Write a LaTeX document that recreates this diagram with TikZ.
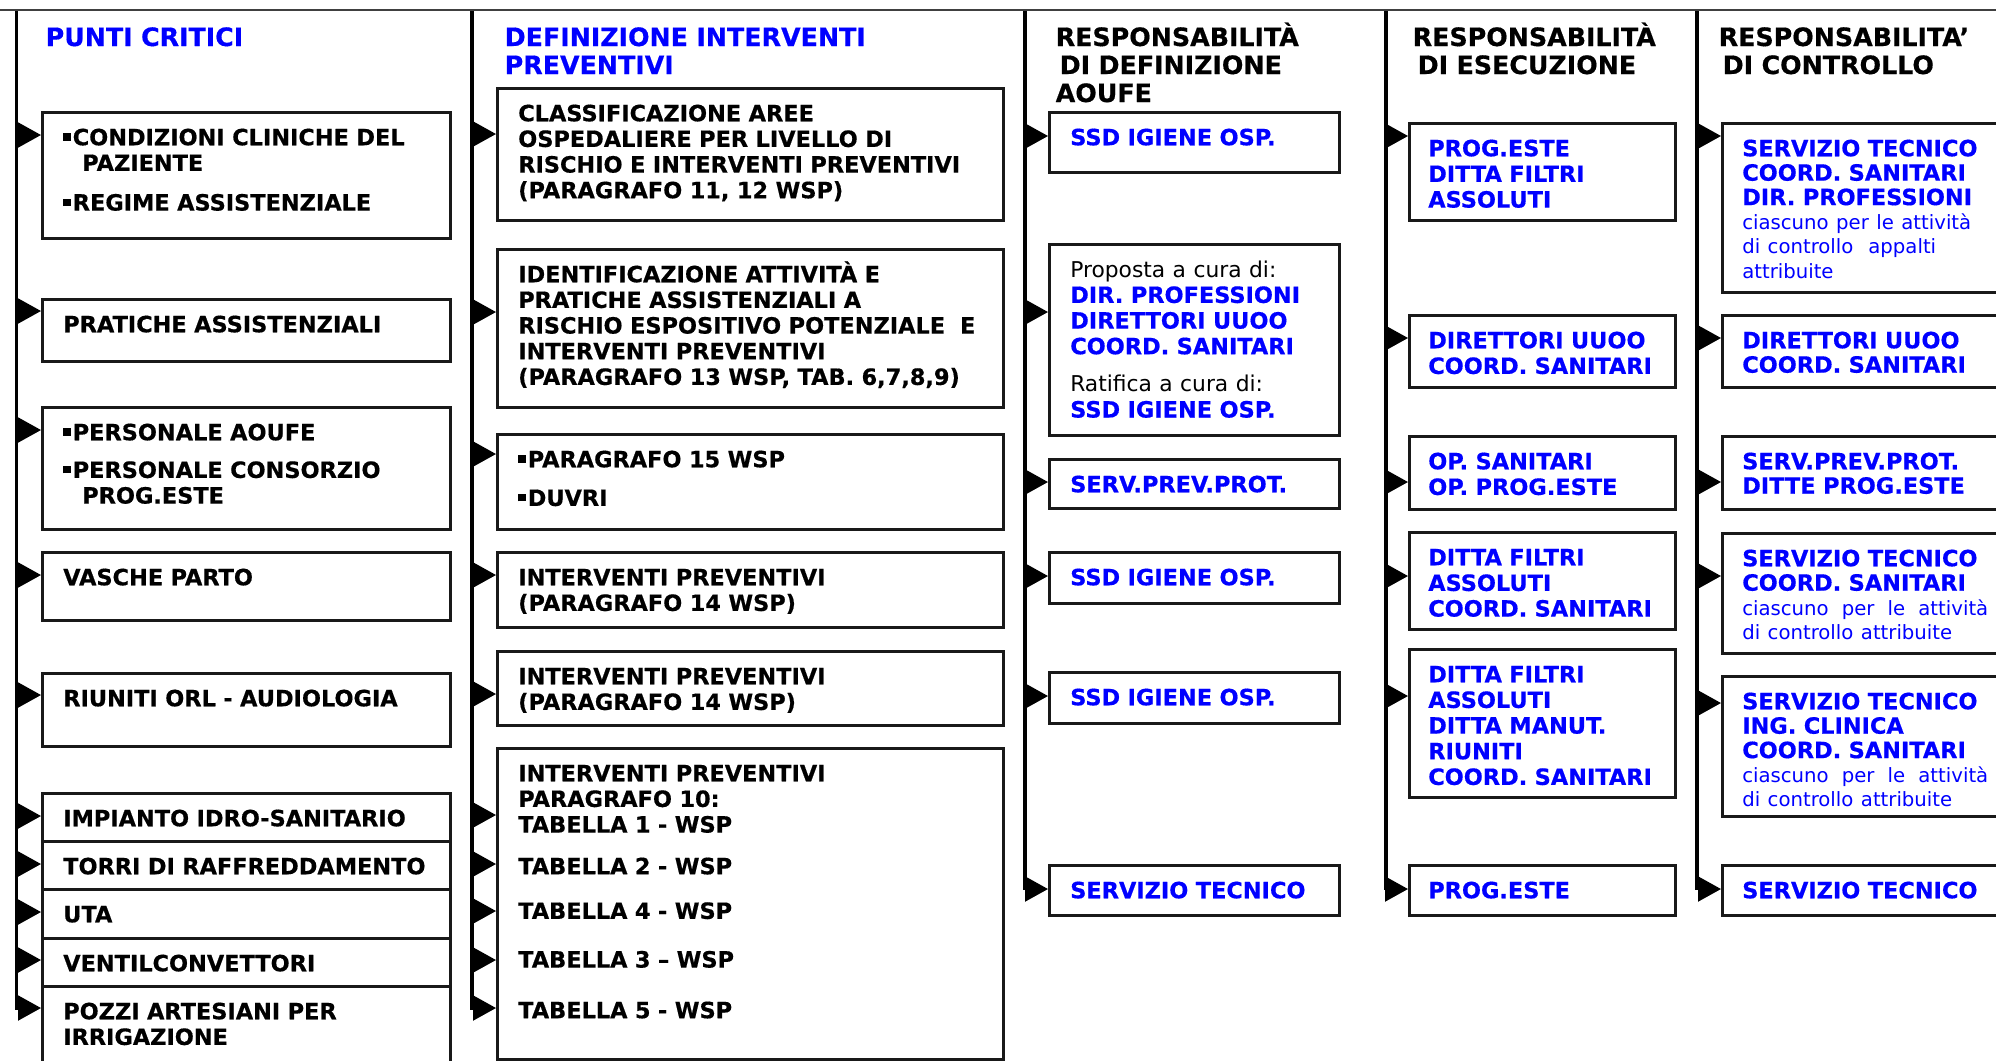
\documentclass[tikz,border=0pt]{standalone}
\usepackage{fontspec}
\setmainfont{DejaVu Sans}[BoldFeatures={FakeBold=0.5}]
\usetikzlibrary{arrows.meta}

\definecolor{tblue}{RGB}{0,0,255}
\definecolor{rim}{RGB}{25,25,25}
\newcommand{\pbul}{\rule[0.45mm]{0.75mm}{0.75mm}\hspace{0.2mm}}
\newcommand{\rgtext}[1]{{\mdseries\fontsize{6.2}{7.3}\selectfont #1}}
\newcommand{\smtext}[1]{{\mdseries\fontsize{5.6}{7.3}\selectfont #1}}
\newcommand{\spreadline}{\leavevmode\hbox to 24.6mm{ciascuno\hfill per\hfill le\hfill attività}}

\begin{document}
\begin{tikzpicture}[x=0.1mm, y=-0.1mm,
        cell/.style={draw=rim, line width=0.25mm, anchor=north west, align=left,
            inner ysep=0pt, text height=3.3mm, font=\fontsize{6.38}{7.3}\selectfont\bfseries},
        critbox/.style={cell, inner xsep=2.1mm, text width=36.6mm},
        intbox/.style={cell, inner xsep=2.1mm, text width=46.4mm},
        defbox/.style={cell, inner xsep=2.1mm, text width=24.8mm, text=tblue},
        esebox/.style={cell, inner xsep=1.9mm, text width=22.8mm, text=tblue},
        ctrbox/.style={cell, inner xsep=2mm, text width=26mm, text=tblue,
            font=\fontsize{6.38}{6.95}\selectfont\bfseries},
        head/.style={anchor=base west, inner sep=0pt, align=left, text width=50mm,
            font=\fontsize{7.2}{7.97}\selectfont\bfseries},
        spine/.style={line width=0.38mm},
        feed/.style={line width=0.2mm, -{Triangle[length=2.3mm, width=2.5mm]}}]

                \useasboundingbox (0,0) rectangle (1996,1060);
                \clip (0,0) rectangle (1996,1060);

                %----- TOP RULE -----
                \draw[line width=0.15mm, black!75] (0,10) -- (1996,10);

                %----- COLUMN HEADERS -----
                \node[head, text=tblue] (h1) at (45,46) {PUNTI CRITICI};
                \node[head, text=tblue] (h2) at (504,46) {DEFINIZIONE INTERVENTI\\PREVENTIVI};
                \node[head] (h3) at (1055,46) {RESPONSABILITÀ\\\hspace*{0.4mm}DI DEFINIZIONE\\AOUFE};
                \node[head] (h4) at (1412,46) {RESPONSABILITÀ\\\hspace*{0.5mm}DI ESECUZIONE};
                \node[head] (h5) at (1718,46) {RESPONSABILITA’\\\hspace*{0.4mm}DI CONTROLLO};

                %----- SPINES -----
                \coordinate (s1t) at (16.5,11);  \coordinate (s1b) at (16.5,1010);
                \coordinate (s2t) at (472,11);   \coordinate (s2b) at (472,1010);
                \coordinate (s3t) at (1025,11);  \coordinate (s3b) at (1025,890);
                \coordinate (s4t) at (1386,11);  \coordinate (s4b) at (1386,890);
                \coordinate (s5t) at (1697,11);  \coordinate (s5b) at (1697,890);
                \draw[spine] (s1t) -- (s1b);
                \draw[spine] (s2t) -- (s2b);
                \draw[spine] (s3t) -- (s3b);
                \draw[spine] (s4t) -- (s4b);
                \draw[spine] (s5t) -- (s5b);

                %----- PUNTI CRITICI -----
                \node[critbox, text depth=9.3mm] (b11) at (41,111)
                    {\pbul CONDIZIONI CLINICHE DEL\\\hspace*{1.9mm}PAZIENTE\\[1.4mm]\pbul REGIME ASSISTENZIALE};
                \node[critbox, text depth=2.9mm] (b12) at (41,298) {PRATICHE ASSISTENZIALI};
                \node[critbox, text depth=8.9mm] (b13) at (41,406)
                    {\pbul PERSONALE AOUFE\\[1.2mm]\pbul PERSONALE CONSORZIO\\\hspace*{1.9mm}PROG.ESTE};
                \node[critbox, text depth=3.5mm] (b14) at (41,551) {VASCHE PARTO};
                \node[critbox, text depth=4.0mm] (b15) at (41,672) {RIUNITI ORL - AUDIOLOGIA};
                \node[critbox, text depth=1.5mm] (b16) at (41,792) {\mbox{IMPIANTO IDRO-SANITARIO}};
                \node[critbox, text depth=1.5mm] (b17) at (41,840) {\mbox{TORRI DI RAFFREDDAMENTO}};
                \node[critbox, text depth=1.6mm] (b18) at (41,888) {UTA};
                \node[critbox, text depth=1.5mm] (b19) at (41,937) {VENTILCONVETTORI};
                \node[critbox, text depth=4.7mm] (b1a) at (41,985) {POZZI ARTESIANI PER\\IRRIGAZIONE};

                %----- DEFINIZIONE INTERVENTI -----
                \node[intbox, text depth=9.9mm] (b21) at (496,87)
                    {CLASSIFICAZIONE AREE\\OSPEDALIERE PER LIVELLO DI\\\mbox{RISCHIO E INTERVENTI PREVENTIVI}\\(PARAGRAFO 11, 12 WSP)};
                \node[intbox, text depth=12.5mm] (b22) at (496,248)
                    {IDENTIFICAZIONE ATTIVITÀ E\\PRATICHE ASSISTENZIALI A\\\mbox{RISCHIO ESPOSITIVO POTENZIALE\ \ E}\\INTERVENTI PREVENTIVI\\\mbox{(PARAGRAFO 13 WSP, TAB. 6,7,8,9)}};
                \node[intbox, text depth=6.2mm] (b23) at (496,433) {\pbul PARAGRAFO 15 WSP\\[1.3mm]\pbul DUVRI};
                \node[intbox, text depth=4.2mm] (b24) at (496,551) {INTERVENTI PREVENTIVI\\(PARAGRAFO 14 WSP)};
                \node[intbox, text depth=4.1mm] (b25) at (496,650) {INTERVENTI PREVENTIVI\\(PARAGRAFO 14 WSP)};
                \node[intbox, text depth=27.8mm] (b26) at (496,747)
                    {INTERVENTI PREVENTIVI\\PARAGRAFO 10:\\TABELLA 1 - WSP\\[1.6mm]TABELLA 2 - WSP\\[1.9mm]TABELLA 4 - WSP\\[2.3mm]TABELLA 3 – WSP\\[2.5mm]TABELLA 5 - WSP};

                %----- RESPONSABILITA DI DEFINIZIONE -----
                \node[defbox, text depth=2.7mm] (b31) at (1048,111) {SSD IGIENE OSP.};
                \node[defbox, text depth=15.8mm] (b32) at (1048,243)
                    {\textcolor{black}{\rgtext{Proposta a cura di:}}\\DIR. PROFESSIONI\\DIRETTORI UUOO\\COORD. SANITARI\\[1.2mm]\textcolor{black}{\rgtext{Ratifica a cura di:}}\\SSD IGIENE OSP.};
                \node[defbox, text depth=1.6mm] (b33) at (1048,458) {SERV.PREV.PROT.};
                \node[defbox, text depth=1.8mm] (b34) at (1048,551) {SSD IGIENE OSP.};
                \node[defbox, text depth=1.8mm] (b35) at (1048,671) {SSD IGIENE OSP.};
                \node[defbox, text depth=1.7mm] (b36) at (1048,864) {SERVIZIO TECNICO};

                %----- RESPONSABILITA DI ESECUZIONE -----
                \node[esebox, text depth=6.4mm] (b41) at (1408,122) {PROG.ESTE\\DITTA FILTRI\\ASSOLUTI};
                \node[esebox, text depth=3.9mm] (b42) at (1408,314) {DIRETTORI UUOO\\\mbox{COORD. SANITARI}};
                \node[esebox, text depth=4.0mm] (b43) at (1408,435) {OP. SANITARI\\OP. PROG.ESTE};
                \node[esebox, text depth=6.4mm] (b44) at (1408,531) {DITTA FILTRI\\ASSOLUTI\\\mbox{COORD. SANITARI}};
                \node[esebox, text depth=11.5mm] (b45) at (1408,648)
                    {DITTA FILTRI\\ASSOLUTI\\DITTA MANUT.\\RIUNITI\\\mbox{COORD. SANITARI}};
                \node[esebox, text depth=1.7mm] (b46) at (1408,864) {PROG.ESTE};

                %----- RESPONSABILITA DI CONTROLLO -----
                \node[ctrbox, text depth=13.6mm] (b51) at (1721,122)
                    {SERVIZIO TECNICO\\COORD. SANITARI\\DIR. PROFESSIONI\\\smtext{ciascuno per le attività}\\\smtext{di controllo\ \ appalti}\\\smtext{attribuite}};
                \node[ctrbox, text depth=3.9mm] (b52) at (1721,314) {DIRETTORI UUOO\\COORD. SANITARI};
                \node[ctrbox, text depth=4.0mm] (b53) at (1721,435) {SERV.PREV.PROT.\\DITTE PROG.ESTE};
                \node[ctrbox, text depth=8.7mm] (b54) at (1721,532)
                    {SERVIZIO TECNICO\\COORD. SANITARI\\\smtext{\spreadline}\\\smtext{di controllo attribuite}};
                \node[ctrbox, text depth=10.7mm] (b55) at (1721,675)
                    {SERVIZIO TECNICO\\ING. CLINICA\\COORD. SANITARI\\\smtext{\spreadline}\\\smtext{di controllo attribuite}};
                \node[ctrbox, text depth=1.7mm] (b56) at (1721,864) {SERVIZIO TECNICO};

                %----- FEED ARROWS FROM THE SPINES -----
                \foreach \b/\y in {b11/135, b12/311, b13/430, b14/575, b15/695,
                                   b16/816, b17/864, b18/912, b19/960, b1a/1008}
                    \draw[feed] (s1t |- 0,\y) -- (\b.west |- 0,\y);
                \foreach \b/\y in {b21/134, b22/312, b23/454, b24/575, b25/694,
                                   b26/815, b26/864, b26/911, b26/960, b26/1008}
                    \draw[feed] (s2t |- 0,\y) -- (\b.west |- 0,\y);
                \foreach \b/\y in {b31/136, b32/312, b33/482, b34/576, b35/696, b36/889}
                    \draw[feed] (s3t |- 0,\y) -- (\b.west |- 0,\y);
                \foreach \b/\y in {b41/136, b42/338, b43/482, b44/576, b45/696, b46/889}
                    \draw[feed] (s4t |- 0,\y) -- (\b.west |- 0,\y);
                \foreach \b/\y in {b51/136, b52/338, b53/482, b54/576, b55/703, b56/889}
                    \draw[feed] (s5t |- 0,\y) -- (\b.west |- 0,\y);

            \end{tikzpicture}
\end{document}
